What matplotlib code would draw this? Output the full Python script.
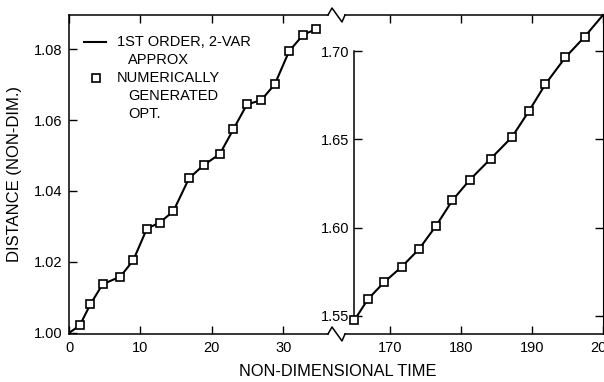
import matplotlib
matplotlib.use('Agg')
import matplotlib.pyplot as plt
from matplotlib.lines import Line2D

# data
# early part of the run (time 0..37)
opt_t_early = [1.5, 3.0, 4.7, 7.2, 9.0, 10.9, 12.7, 14.6, 16.8, 18.9,
               21.1, 23.0, 24.9, 26.9, 28.8, 30.8, 32.8, 34.6]
opt_d_early = [1.0021, 1.0081, 1.0137, 1.0159, 1.0205, 1.0294, 1.0311, 1.0343, 1.0436, 1.0474,
               1.0504, 1.0574, 1.0644, 1.0656, 1.0701, 1.0794, 1.0841, 1.0856]
approx_t_early = [0.0] + opt_t_early
approx_d_early = [1.0000] + opt_d_early

# late part of the run (time 163..200)
opt_t_late = [165.0, 166.9, 169.2, 171.7, 174.1, 176.5, 178.8, 181.2,
              184.2, 187.2, 189.6, 191.9, 194.7, 197.4]
opt_d_late = [1.5477, 1.5595, 1.5692, 1.5780, 1.5879, 1.6011, 1.6155, 1.6269,
              1.6391, 1.6514, 1.6662, 1.6813, 1.6964, 1.7080]
approx_t_late = opt_t_late + [200.0]
approx_d_late = opt_d_late + [1.7204]

ticks_t_early = [0, 10, 20, 30]
ticks_d_early = [1.00, 1.02, 1.04, 1.06, 1.08]
ticks_t_late = [170, 180, 190, 200]
ticks_d_late = [1.55, 1.60, 1.65, 1.70]

legend_labels = ['1ST ORDER, 2-VAR', 'APPROX', 'NUMERICALLY', 'GENERATED', 'OPT.']

plt.rcParams['font.family'] = ['Liberation Sans', 'DejaVu Sans']
FS = 10.5
W, H = 604, 382


def px(x, y):
    # pixel position (from top-left) -> figure fraction
    return x / W, 1 - y / H


fig = plt.figure(figsize=(W / 100, H / 100), dpi=100)
ax1 = fig.add_axes([69 / W, 48 / H, 268 / W, 319 / H])
ax2 = fig.add_axes([337 / W, 48 / H, 266 / W, 319 / H])

for ax in (ax1, ax2):
    for s in ax.spines.values():
        s.set_linewidth(1.1)
    ax.tick_params(direction='in', length=6, width=1, labelsize=FS, pad=5,
                   top=True, bottom=True)

# left part
ax1.plot(approx_t_early, approx_d_early, color='black', lw=1.5, zorder=2)
ax1.plot(opt_t_early, opt_d_early, 's', ms=6, mfc='white', mec='black', mew=1.2, zorder=3)
ax1.set_xlim(0, 37.5)
ax1.set_ylim(0.9997, 1.0896)
ax1.set_xticks(ticks_t_early)
ax1.set_yticks(ticks_d_early)
ax1.set_yticklabels(['%.2f' % v for v in ticks_d_early])
ax1.spines['right'].set_visible(False)
ax1.spines['top'].set_bounds(0, 36.2)
ax1.spines['bottom'].set_bounds(0, 36.2)
ax1.set_ylabel('DISTANCE (NON-DIM.)', fontsize=12)
ax1.yaxis.set_label_coords(-47 / 268, 0.5)

# right part
ax2.plot(approx_t_late, approx_d_late, color='black', lw=1.5, zorder=2, clip_on=False)
ax2.plot(opt_t_late, opt_d_late, 's', ms=6, mfc='white', mec='black', mew=1.2, zorder=3,
         clip_on=False)
ax2.set_xlim(162.54, 200)
ax2.set_ylim(1.5398, 1.7204)
ax2.set_xticks(ticks_t_late)
ax2.set_yticks(ticks_d_late)
ax2.set_yticklabels(['%.2f' % v for v in ticks_d_late])
ax2.spines['left'].set_position(('data', 165))
ax2.spines['left'].set_bounds(1.55, 1.70)
ax2.spines['top'].set_bounds(163.66, 200)
ax2.spines['bottom'].set_bounds(163.66, 200)
ax2.spines['right'].set_linewidth(0.8)
ax2.tick_params(axis='y', right=True, labelright=False, pad=4)

# axis break zigzags
for base_y in (15, 334):
    xs, ys = [], []
    for dx, dy in [(-9, 0), (-5, -7), (5, 7), (8, 0)]:
        fx, fy = px(337 + dx, base_y + dy)
        xs.append(fx)
        ys.append(fy)
    fig.add_artist(Line2D(xs, ys, transform=fig.transFigure, color='black', lw=1.1))

fig.text(*px(338, 372), 'NON-DIMENSIONAL TIME', fontsize=11.8, ha='center', va='center')

# legend
lx, ly = px(84, 42)
rx, _ = px(106, 42)
fig.add_artist(Line2D([lx, rx], [ly, ly], transform=fig.transFigure, color='black', lw=1.5))
mx, my = px(96, 78)
fig.add_artist(Line2D([mx], [my], transform=fig.transFigure, marker='s', ms=6,
                      mfc='white', mec='black', mew=1.2))
for label, (tx, ty) in zip(legend_labels, [(117, 42), (128, 60), (117, 78), (128, 96), (128, 114)]):
    fig.text(*px(tx, ty), label, fontsize=FS, ha='left', va='center')

fig.savefig('out.png', dpi=100)
